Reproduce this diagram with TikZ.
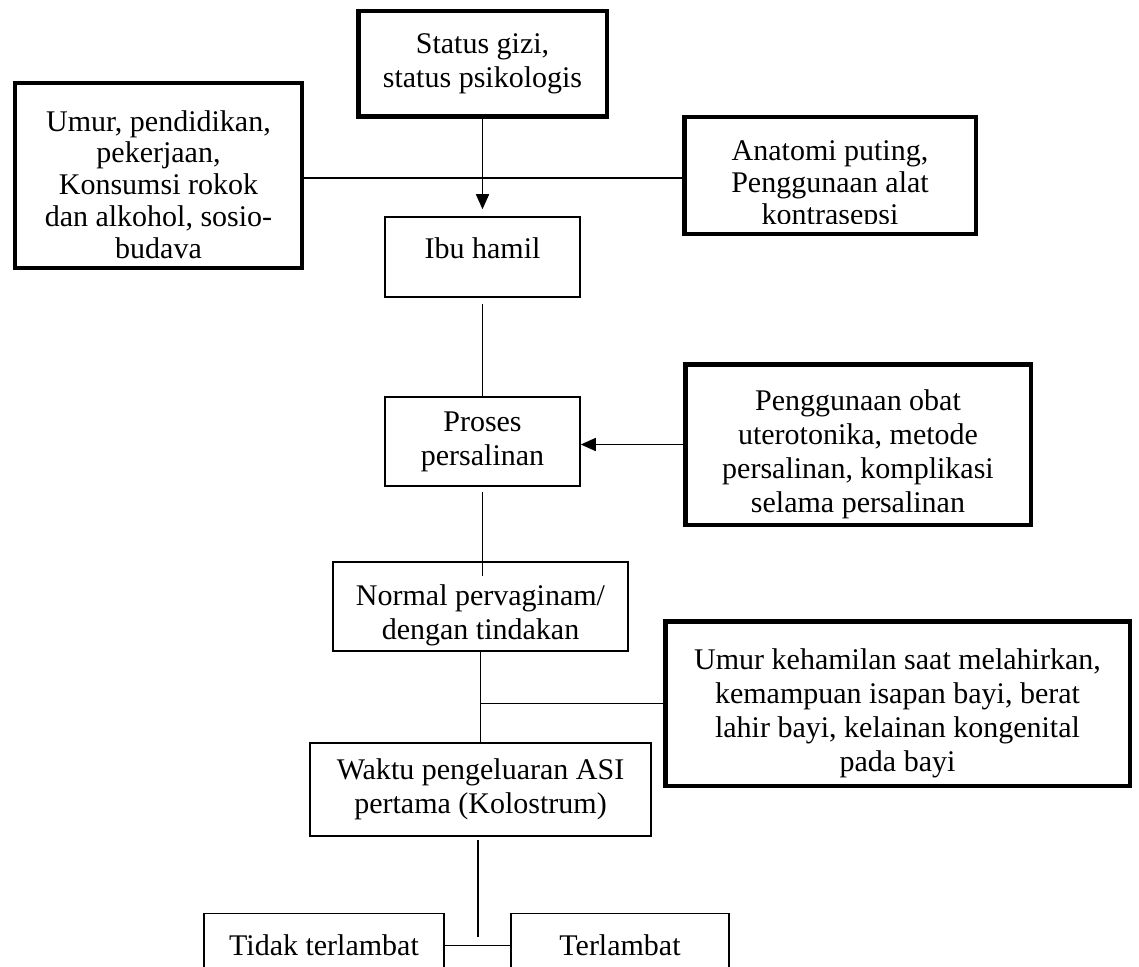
\documentclass[tikz,border=0pt]{standalone}
\usepackage{fontspec}
\setmainfont{Liberation Serif}
\usepackage{tikz}
\usetikzlibrary{arrows.meta, positioning, calc}

\begin{document}
\begin{tikzpicture}[x=0.4pt, y=-0.4pt, line width=0.6pt,
  box/.style={draw, line width=0.6pt, align=center, inner sep=2pt, font=\fontsize{12}{13.6}\selectfont},
  thickbox/.style={box, line width=1.8pt},
  arr/.style={-{Triangle[length=6pt,width=5.2pt]}}]
\useasboundingbox (0,0) rectangle (1139,966);

% Factors at the top
\node[thickbox, minimum width=99.4pt, minimum height=42.2pt] (status) at (482.5,64) {Status gizi,\\ status psikologis};
\node[thickbox, minimum width=114.6pt, minimum height=73.8pt, font=\fontsize{12}{12.7}\selectfont] (umur) at (158.5,175.5) {\rule{0pt}{15.5pt}Umur, pendidikan,\\ pekerjaan,\\ Konsumsi rokok\\ dan alkohol, sosio-\\ budava};
\node[thickbox, minimum width=116.6pt, minimum height=46.6pt] (anatomi) at (830,175.5) {};
\begin{scope}
  \clip (690,120) rectangle (970,223);
  \node[box, draw=none, font=\fontsize{12}{12.7}\selectfont] (anatomitext) at (830,186) {Anatomi puting,\\ Penggunaan alat\\ kontrasepsi};
\end{scope}

% Main chain
\node[box, minimum width=78pt, minimum height=32pt, text depth=7pt] (ibu) at (482.5,257) {Ibu hamil};
\node[box, minimum width=78pt, minimum height=35.6pt] (proses) at (482.5,441.5) {Proses\\ persalinan};
\node[thickbox, minimum width=138.2pt, minimum height=64.2pt] (obat) at (858,444.5) {\rule{0pt}{16pt}Penggunaan obat\\ uterotonika, metode\\ persalinan, komplikasi\\ selama persalinan};
\node[box, minimum width=118pt, minimum height=34.8pt] (normal) at (480.5,606.5) {\rule{0pt}{15.5pt}Normal pervaginam/\\ dengan tindakan};
\node[thickbox, minimum width=185.8pt, minimum height=65.8pt] (bayi) at (897.5,703.5) {\rule{0pt}{16.5pt}Umur kehamilan saat melahirkan,\\ kemampuan isapan bayi, berat\\ lahir bayi, kelainan kongenital\\ pada bayi};
\node[box, minimum width=136.4pt, minimum height=37.2pt] (asi) at (480.5,789.5) {Waktu pengeluaran ASI\\ pertama (Kolostrum)};

% Outcome
\node[box, minimum width=96pt, minimum height=25.6pt] (tidak) at (324,945.5) {Tidak terlambat};
\node[box, minimum width=87.2pt, minimum height=25.6pt] (lambat) at (620,945.5) {Terlambat};
\coordinate (split) at (478,937);

% Connectors
\draw[arr, shorten >=2.8pt] (status) -- (ibu);
\draw ([yshift=-1pt]umur.east) -- ([yshift=-1pt]anatomi.west);
\draw[shorten <=2.4pt] (ibu) -- (proses);
\draw[arr] (obat.west) -- (obat.west -| proses.east);
\draw[shorten <=2pt] (proses) -- ([yshift=-6pt]normal.north -| proses);
\draw (normal) -- (asi);
\draw (bayi.west) -- (bayi.west -| normal.south);
\draw[shorten <=1.2pt] (asi.south -| split) -- (split);
\draw (tidak) -- (lambat);
\end{tikzpicture}
\end{document}
